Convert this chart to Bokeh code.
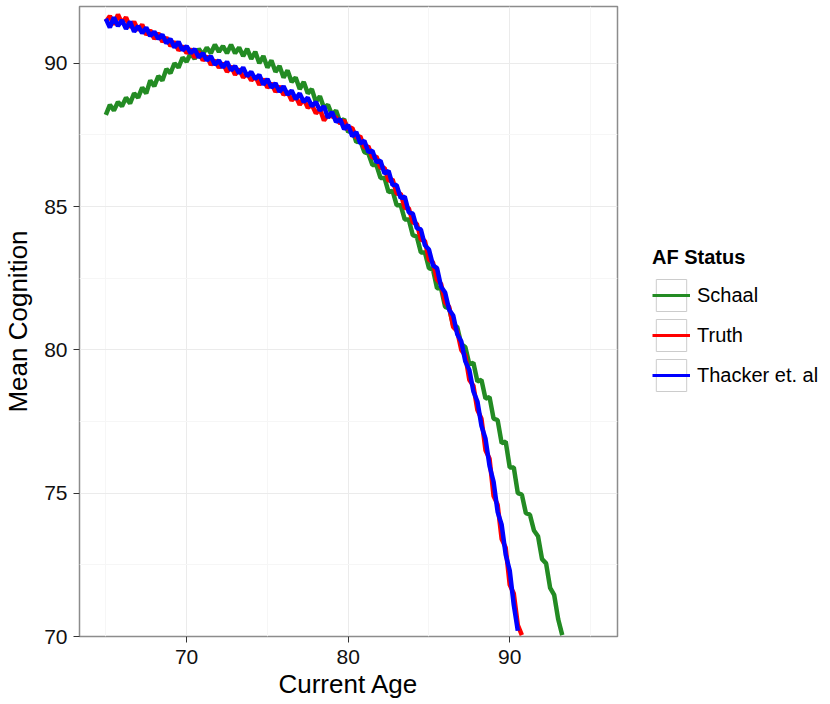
from bokeh.plotting import figure
from bokeh.models import Range1d, FixedTicker, Legend, LegendItem
from bokeh.layouts import row
from bokeh.embed import file_html
from bokeh.resources import INLINE

# Age grid shared by all three series (quarter-year steps)
age = [
    65.00, 65.25, 65.50, 65.75, 66.00, 66.25, 66.50, 66.75, 67.00, 67.25, 67.50, 67.75,
    68.00, 68.25, 68.50, 68.75, 69.00, 69.25, 69.50, 69.75, 70.00, 70.25, 70.50, 70.75,
    71.00, 71.25, 71.50, 71.75, 72.00, 72.25, 72.50, 72.75, 73.00, 73.25, 73.50, 73.75,
    74.00, 74.25, 74.50, 74.75, 75.00, 75.25, 75.50, 75.75, 76.00, 76.25, 76.50, 76.75,
    77.00, 77.25, 77.50, 77.75, 78.00, 78.25, 78.50, 78.75, 79.00, 79.25, 79.50, 79.75,
    80.00, 80.25, 80.50, 80.75, 81.00, 81.25, 81.50, 81.75, 82.00, 82.25, 82.50, 82.75,
    83.00, 83.25, 83.50, 83.75, 84.00, 84.25, 84.50, 84.75, 85.00, 85.25, 85.50, 85.75,
    86.00, 86.25, 86.50, 86.75, 87.00, 87.25, 87.50, 87.75, 88.00, 88.25, 88.50, 88.75,
    89.00, 89.25, 89.50, 89.75, 90.00, 90.25, 90.50, 90.75, 91.00, 91.25, 91.50, 91.75,
    92.00, 92.25, 92.50, 92.75, 93.00, 93.25,
]

schaal = [
    88.20, 88.55, 88.35, 88.65, 88.50, 88.80, 88.60, 88.95, 88.80, 89.15, 88.95, 89.40,
    89.20, 89.55, 89.40, 89.80, 89.65, 90.00, 89.85, 90.20, 90.05, 90.35, 90.15, 90.50,
    90.30, 90.55, 90.35, 90.65, 90.40, 90.60, 90.35, 90.65, 90.35, 90.55, 90.25, 90.50,
    90.15, 90.40, 90.00, 90.25, 89.85, 90.10, 89.70, 89.90, 89.50, 89.75, 89.35, 89.50,
    89.10, 89.35, 88.95, 89.10, 88.65, 88.85, 88.45, 88.55, 88.20, 88.35, 87.95, 88.05,
    87.60, 87.70, 87.25, 87.30, 86.90, 86.85, 86.45, 86.45, 86.00, 86.00, 85.50, 85.55,
    85.05, 85.05, 84.55, 84.55, 84.00, 83.95, 83.40, 83.40, 82.85, 82.80, 82.15, 82.15,
    81.50, 81.45, 80.85, 80.80, 80.20, 80.10, 79.50, 79.55, 78.90, 78.95, 78.30, 78.35,
    77.60, 77.55, 76.75, 76.80, 75.90, 75.90, 75.00, 74.95, 74.30, 74.25, 73.70, 73.50,
    72.70, 72.55, 71.70, 71.45, 70.60, 70.05,
]

truth = [
    91.45, 91.65, 91.35, 91.70, 91.40, 91.60, 91.25, 91.45, 91.15, 91.35, 91.00, 91.15,
    90.85, 91.05, 90.75, 90.90, 90.60, 90.75, 90.45, 90.60, 90.35, 90.50, 90.20, 90.40,
    90.10, 90.25, 89.95, 90.10, 89.85, 90.00, 89.70, 89.90, 89.60, 89.80, 89.50, 89.65,
    89.40, 89.55, 89.25, 89.45, 89.15, 89.30, 89.00, 89.20, 88.90, 89.00, 88.70, 88.85,
    88.55, 88.75, 88.45, 88.55, 88.25, 88.40, 88.00, 88.20, 88.15, 88.10, 87.90, 88.00,
    87.70, 87.75, 87.40, 87.45, 87.05, 87.10, 86.70, 86.75, 86.35, 86.35, 85.90, 85.95,
    85.45, 85.45, 84.95, 84.95, 84.45, 84.40, 83.85, 83.80, 83.15, 83.05, 82.45, 82.30,
    81.65, 81.50, 80.80, 80.65, 80.00, 79.80, 78.95, 78.75, 77.90, 77.60, 76.50, 76.20,
    74.90, 74.60, 73.40, 73.10, 71.80, 71.50, 70.40, 70.05,
]

thacker = [
    91.55, 91.25, 91.60, 91.30, 91.50, 91.20, 91.45, 91.10, 91.30, 91.05, 91.25, 90.95,
    91.10, 90.85, 91.00, 90.70, 90.85, 90.55, 90.75, 90.45, 90.60, 90.35, 90.50, 90.20,
    90.35, 90.10, 90.25, 89.95, 90.10, 89.85, 90.05, 89.75, 89.90, 89.65, 89.85, 89.55,
    89.70, 89.45, 89.60, 89.25, 89.45, 89.15, 89.30, 89.00, 89.20, 88.90, 89.05, 88.75,
    88.95, 88.65, 88.80, 88.50, 88.65, 88.35, 88.50, 88.10, 88.30, 87.95, 88.05, 87.70,
    87.85, 87.45, 87.60, 87.20, 87.30, 86.90, 86.95, 86.55, 86.60, 86.15, 86.25, 85.75,
    85.75, 85.30, 85.35, 84.80, 84.75, 84.25, 84.20, 83.65, 83.50, 82.95, 82.85, 82.20,
    82.00, 81.40, 81.20, 80.55, 80.30, 79.60, 79.30, 78.55, 78.20, 77.35, 76.90, 75.95,
    75.40, 74.35, 73.90, 72.85, 72.30, 71.10, 70.20,
]

series_names = ["Schaal", "Truth", "Thacker et. al"]
series_colors = ["#238b23", "#ff0000", "#0000ff"]

x_ticks = [70, 80, 90]
x_minor = [65, 75, 85, 95]
y_ticks = [70, 75, 80, 85, 90]
y_minor = [72.5, 77.5, 82.5, 87.5]

FONT = "Liberation Sans"
LW = 4.5

# ---- main panel -------------------------------------------------------
p = figure(
    width=630, height=704,
    x_range=Range1d(63.37, 96.67), y_range=Range1d(70, 91.98),
    output_backend="svg", toolbar_location=None,
    min_border_left=78, min_border_right=13, min_border_top=6, min_border_bottom=68,
    x_axis_label="Current Age", y_axis_label="Mean Cognition",
)
p.background_fill_color = "white"
p.border_fill_color = "white"
p.outline_line_color = "#8c8c8c"
p.outline_line_width = 1.5

p.xaxis.ticker = FixedTicker(ticks=x_ticks, minor_ticks=x_minor)
p.yaxis.ticker = FixedTicker(ticks=y_ticks, minor_ticks=y_minor)

for ax in (p.xaxis, p.yaxis):
    ax.axis_line_color = None
    ax.major_tick_line_color = "#333333"
    ax.major_tick_out = 6
    ax.major_tick_in = 0
    ax.minor_tick_out = 0
    ax.minor_tick_in = 0
    ax.major_label_text_font = FONT
    ax.major_label_text_font_size = "21px"
    ax.major_label_text_color = "#111111"
    ax.axis_label_text_font = FONT
    ax.axis_label_text_font_size = "26px"
    ax.axis_label_text_font_style = "normal"
    ax.axis_label_text_color = "black"
p.xaxis.major_label_standoff = 7
p.yaxis.major_label_standoff = 6
p.xaxis.axis_label_standoff = 2
p.yaxis.axis_label_standoff = 8

for g in (p.xgrid, p.ygrid):
    g.grid_line_color = "#ebebeb"
    g.grid_line_width = 1
    g.minor_grid_line_color = "#f6f6f6"
    g.minor_grid_line_width = 1

p.line(age[:len(schaal)], schaal, line_color=series_colors[0], line_width=LW)
p.line(age[:len(truth)], truth, line_color=series_colors[1], line_width=LW)
p.line(age[:len(thacker)], thacker, line_color=series_colors[2], line_width=LW)

# ---- legend column ----------------------------------------------------
lg = figure(
    width=200, height=704, x_range=Range1d(0, 1), y_range=Range1d(0, 1),
    output_backend="svg", toolbar_location=None,
    x_axis_type=None, y_axis_type=None,
    min_border=0, outline_line_color=None,
)
lg.grid.visible = False
lg.background_fill_color = "white"
lg.border_fill_color = "white"

# key renderers hold a single point that lies outside the visible ranges,
# so only their legend glyphs show up
key_box = lg.quad(left=[5], right=[6], top=[6], bottom=[5],
                  fill_color="white", line_color="#cccccc", line_width=1)
items = []
for name, color in zip(series_names, series_colors):
    r = lg.line(x=[5, 6], y=[5, 6], line_color=color, line_width=3)
    items.append(LegendItem(label=name, renderers=[key_box, r]))

legend = Legend(items=items, title="AF Status", location=(22, 241))
legend.glyph_width = 38
legend.glyph_height = 40
legend.label_height = 40
legend.spacing = 0
legend.padding = 0
legend.margin = 0
legend.label_standoff = 7
legend.label_text_font = FONT
legend.label_text_font_size = "20px"
legend.label_text_color = "black"
legend.title_text_font = FONT
legend.title_text_font_size = "20px"
legend.title_text_font_style = "bold"
legend.title_text_color = "black"
legend.title_standoff = 6
legend.border_line_color = None
legend.background_fill_alpha = 0
lg.add_layout(legend)

layout = row(p, lg)
open("out.html", "w").write(file_html(layout, INLINE))
